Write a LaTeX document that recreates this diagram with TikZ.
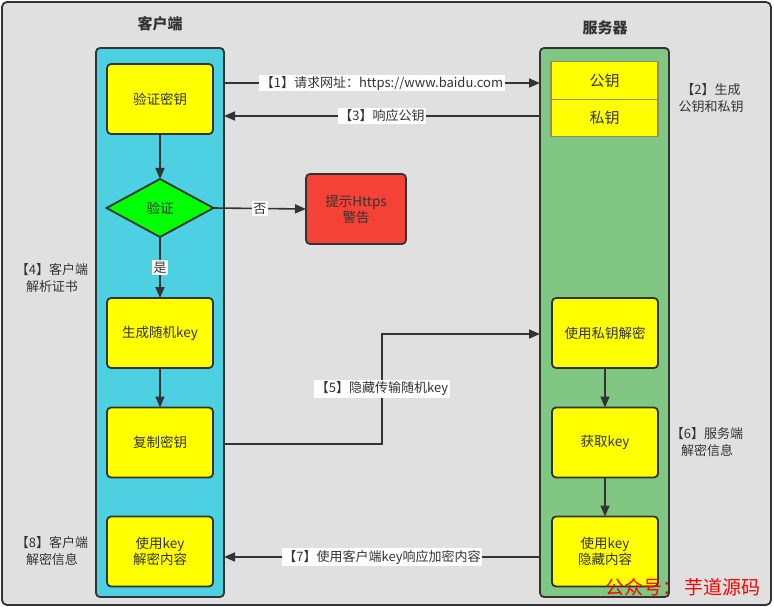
\documentclass[tikz,border=0pt]{standalone}
\usepackage{fontspec}
\setmainfont{Noto Sans CJK SC}
\usetikzlibrary{arrows.meta,shapes.geometric}
\definecolor{bgc}{RGB}{224,224,224}
\definecolor{edge}{RGB}{51,51,51}
\definecolor{cyanl}{RGB}{77,208,225}
\definecolor{greenl}{RGB}{129,199,132}
\definecolor{yel}{RGB}{255,255,0}
\definecolor{redb}{RGB}{244,67,54}
\definecolor{grn}{RGB}{0,255,0}
\definecolor{keyedge}{RGB}{140,140,110}
\tikzset{
  lane/.style={draw=edge, line width=1.8pt, rounded corners=4pt, outer sep=0pt, inner sep=0pt},
  ybox/.style={draw=edge, fill=yel, line width=1.8pt, rounded corners=4pt, minimum width=106pt, minimum height=70pt, outer sep=0pt, align=center, font=\fontsize{13.5}{16}\selectfont, text=edge},
  keybox/.style={draw=keyedge, fill=yel, line width=1.2pt, minimum width=107pt, minimum height=37.5pt, outer sep=0pt, font=\fontsize{15}{17}\selectfont, text=edge},
  arr/.style={draw=edge, line width=1.6pt, -{Triangle[length=11pt,width=9pt]}},
  lbl/.style={fill=white, inner sep=1.5pt, font=\fontsize{13}{15}\selectfont, text=edge},
  note/.style={align=center, font=\fontsize{13}{16.5}\selectfont, text=edge},
  ttl/.style={font=\fontsize{15}{18}\selectfont\bfseries, text=edge},
}
\begin{document}
\begin{tikzpicture}[x=1pt,y=-1pt]
\useasboundingbox (0,0) rectangle (774,607);
\draw[draw=edge, fill=bgc, line width=1.8pt, rounded corners=5pt] (2,2) rectangle (771,605);
\node[ttl] (tc) at (160,24) {客户端};
\node[ttl] (ts) at (605,28) {服务器};
% lanes
\node[lane, fill=cyanl, minimum width=128pt, minimum height=549pt] (cl) at (160,322.5) {};
\node[lane, fill=greenl, minimum width=129pt, minimum height=549pt] (sl) at (604.5,322.5) {};
% client boxes
\node[ybox] (vk) at (160,99) {验证密钥};
\node[diamond, draw=edge, fill=grn, line width=1.8pt, minimum width=107pt, minimum height=58pt, inner sep=0pt, outer sep=0pt, aspect=1.85, font=\fontsize{13.5}{16}\selectfont, text=edge] (vd) at (160,208) {验证};
\node[draw=edge, fill=redb, line width=1.8pt, rounded corners=4pt, minimum width=100pt, minimum height=70pt, outer sep=0pt, align=center, font=\fontsize{13.5}{16}\selectfont, text=edge] (warn) at (356,209) {提示Https\\警告};
\node[ybox] (gen) at (160,333) {生成随机key};
\node[ybox] (cp) at (160,442.5) {复制密钥};
\node[ybox] (dk) at (160,551.5) {使用key\\解密内容};
% server boxes
\node[keybox] (pub) at (604.5,80.5) {公钥};
\node[keybox, anchor=north] (pri) at (pub.south) {私钥};
\node[ybox] (dec) at (605,333) {使用私钥解密};
\node[ybox] (get) at (605,442.5) {获取key};
\node[ybox] (hide) at (605,551.5) {使用key\\隐藏内容};
% connectors
\draw[arr] (cl.east |- 0,83) -- node[lbl]{【1】请求网址：https://www.baidu.com} (sl.west |- 0,83);
\draw[arr] (sl.west |- 0,116) -- node[lbl]{【3】响应公钥} (cl.east |- 0,116);
\draw[arr] (vk) -- (vd);
\draw[arr] (vd.east) -- node[lbl, pos=0.5]{否} (warn.west);
\draw[arr] (vd.south) -- node[lbl, pos=0.5]{是} (gen.north);
\draw[arr] (gen) -- (cp);
\coordinate (b1) at (382,444);
\coordinate (b2) at (382,334);
\draw[arr] (cl.east |- b1) -- (b1) -- node[lbl]{【5】隐藏传输随机key} (b2) -- (sl.west |- b2);
\draw[arr] (dec) -- (get);
\draw[arr] (get) -- (hide);
\draw[arr] (sl.west |- 0,557) -- node[lbl]{【7】使用客户端key响应加密内容} (cl.east |- 0,557);
% notes
\node[note] (n2) at (711,98) {【2】生成\\公钥和私钥};
\node[note] (n4) at (52,278) {【4】客户端\\解析证书};
\node[note] (n6) at (707,442) {【6】服务端\\解密信息};
\node[note] (n8) at (52,551) {【8】客户端\\解密信息};
% watermark
\node[anchor=west, inner sep=0pt, text=red, font=\fontsize{19}{22}\selectfont] (wm1) at (605,587) {公众号：};
\node[anchor=west, inner sep=0pt, text=red, font=\fontsize{19}{22}\selectfont] (wm2) at (684,587) {芋道源码};
\end{tikzpicture}
\end{document}
